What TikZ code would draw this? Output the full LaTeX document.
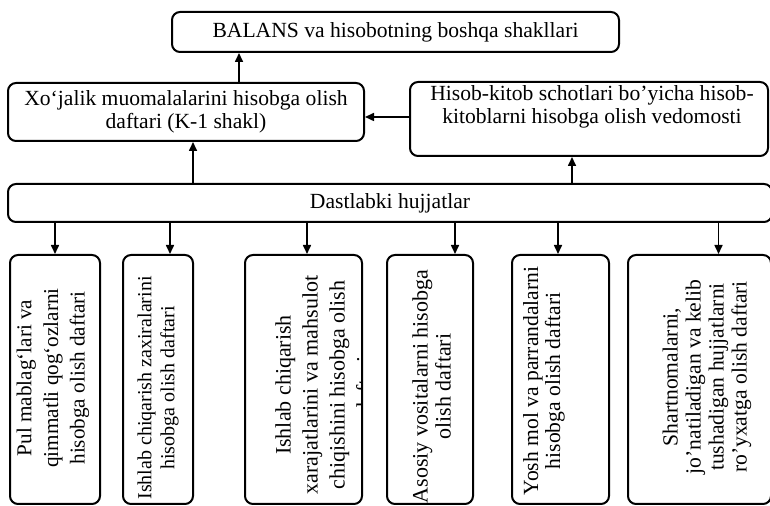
\documentclass[tikz,border=0pt]{standalone}
\usepackage{fontspec}
\setmainfont{Liberation Serif}
\usetikzlibrary{arrows.meta}
\begin{document}
\begin{tikzpicture}[x=0.5pt,y=-0.5pt,
  box/.style={draw, line width=1pt, rounded corners=4pt, inner sep=0pt, align=center,
    font=\fontsize{10.8}{11.2}\selectfont},
  arr/.style={line width=0.8pt, -{Triangle[length=4.5pt,width=4pt]}},
  vtext/.style={rotate=90, align=center, inner sep=0pt}
]
\useasboundingbox (0,0) rectangle (770,506);

% upper boxes
\node[box, minimum width=223.5pt, minimum height=20pt] (bal) at (395.5,32)
  {BALANS va hisobotning boshqa shakllari};
\node[box, minimum width=178pt, minimum height=29pt] (xoj) at (186,112)
  {Xo‘jalik muomalalarini hisobga olish\\daftari (K-1 shakl)};
\node[box, minimum width=179pt, minimum height=37pt] (hk) at (589,119) {};
\node[align=center, inner sep=0pt, font=\fontsize{10.8}{11.5}\selectfont] (hkt) at (592,106.5)
  {Hisob-kitob schotlari bo'yicha hisob-\\kitoblarni hisobga olish vedomosti};
\node[box, minimum width=382pt, minimum height=19pt] (dh) at (390,203)
  {Dastlabki hujjatlar};

% lower boxes
\node[box, minimum width=45pt,   minimum height=124.5pt] (b1) at (55,379.5) {};
\node[box, minimum width=35pt,   minimum height=124.5pt] (b2) at (158,379.5) {};
\node[box, minimum width=58.5pt, minimum height=124.5pt] (b3) at (303.5,379.5) {};
\node[box, minimum width=43pt,   minimum height=124.5pt] (b4) at (430,379.5) {};
\node[box, minimum width=48.5pt, minimum height=124.5pt] (b5) at (560.5,379.5) {};
\node[box, minimum width=71.5pt, minimum height=124.5pt] (b6) at (699.5,379.5) {};

% texts of lower boxes
\node[vtext, font=\fontsize{10.6}{13.3}\selectfont] (t1) at (53,378)
  {Pul mablag‘lari va\\qimmatli qog‘ozlarni\\hisobga olish daftari};
\node[vtext, font=\fontsize{10}{11.5}\selectfont] (t2) at (158,388)
  {Ishlab chiqarish zaxiralarini\\hisobga olish daftari};
\begin{scope}
  \clip (246,256) rectangle (360,503);
  \node[vtext, font=\fontsize{11}{13.5}\selectfont] (t3) at (323.5,385)
    {Ishlab chiqarish\\xarajatlarini va mahsulot\\chiqishini hisobga olish\\daftari};
\end{scope}
\node[vtext, font=\fontsize{11}{11.5}\selectfont] (t4) at (431.5,386.5)
  {Asosiy vositalarni hisobga\\olish daftari};
\node[vtext, font=\fontsize{10.8}{11}\selectfont] (t5) at (544,381)
  {Yosh mol va parrandalarni\\hisobga olish daftari};
\node[vtext, font=\fontsize{10.8}{11.5}\selectfont] (t6) at (707,377)
  {Shartnomalarni,\\jo'natiladigan va kelib\\tushadigan hujjatlarni\\ro'yxatga olish daftari};

% helper coordinates
\coordinate (cx) at ([xshift=3.5pt]xoj.south);
\coordinate (ch) at ([xshift=-8.5pt]hk.south);
\coordinate (cb) at ([xshift=26.5pt]xoj.north);
\coordinate (cy) at ([yshift=1pt]hk.west);
\coordinate (c1) at (b1.north);
\coordinate (c2) at ([xshift=6pt]b2.north);
\coordinate (c3) at ([xshift=1.75pt]b3.north);
\coordinate (c4) at ([xshift=12.5pt]b4.north);
\coordinate (c5) at ([xshift=-1.25pt]b5.north);
\coordinate (c6) at ([xshift=9.5pt]b6.north);

% connectors
\draw[arr] (cb) -- (cb |- bal.south);
\draw[arr] (cx |- dh.north) -- (cx);
\draw[arr] (ch |- dh.north) -- (ch);
\draw[arr] (cy) -- (cy -| xoj.east);
\foreach \i in {1,...,6} {
  \draw[arr] (c\i |- dh.south) -- (c\i);
}
\end{tikzpicture}
\end{document}
